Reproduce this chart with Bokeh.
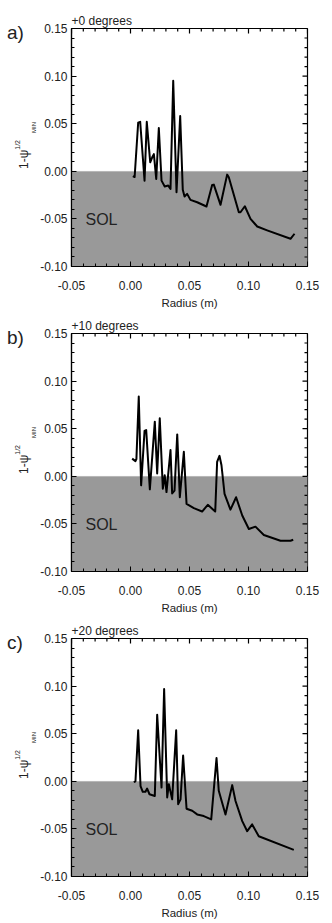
from bokeh.plotting import figure
from bokeh.models import (Range1d, BoxAnnotation, Label, FixedTicker,
                          NumeralTickFormatter, Div, Spacer)
from bokeh.layouts import column, row
from bokeh.embed import file_html
from bokeh.resources import INLINE

# ---------------- data ----------------
PANEL_LETTERS = ["a)", "b)", "c)"]
PANEL_TITLES = ["+0 degrees", "+10 degrees", "+20 degrees"]
X_TICKS = [-0.05, 0.00, 0.05, 0.10, 0.15]
Y_TICKS = [-0.10, -0.05, 0.00, 0.05, 0.10, 0.15]
SOL_LEVEL = 0.0
X_LABEL = "Radius (m)"
REGION_LABEL = "SOL"

R_0 = [0.002, 0.0035, 0.0065, 0.0082, 0.0119, 0.0138, 0.0167, 0.0184, 0.0198,
       0.0218, 0.0240, 0.0263, 0.0290, 0.0320, 0.0339, 0.0362, 0.0390, 0.0421,
       0.0443, 0.0458, 0.0480, 0.0508, 0.0565, 0.0644, 0.0692, 0.0706, 0.0763,
       0.0819, 0.0833, 0.0918, 0.0932, 0.0969, 0.1017, 0.1074, 0.1158, 0.1356,
       0.1390]
V_0 = [-0.005, -0.006, 0.051, 0.052, -0.0098, 0.052, 0.0095, 0.0147, 0.018,
       -0.008, 0.0455, -0.0098, -0.016, -0.015, -0.0185, 0.095, -0.022, 0.058,
       -0.0195, -0.0265, -0.0237, -0.030, -0.0325, -0.037, -0.0143, -0.014, -0.0352,
       -0.0035, -0.0063, -0.043, -0.043, -0.0367, -0.050, -0.058, -0.062, -0.0709,
       -0.0656]

R_10 = [0.0014, 0.0042, 0.0050, 0.0070, 0.0090, 0.0119, 0.0133, 0.0164, 0.0206,
        0.0226, 0.0248, 0.0274, 0.0290, 0.0305, 0.0339, 0.0353, 0.0373, 0.0396,
        0.0418, 0.0452, 0.0475, 0.0537, 0.0607, 0.0655, 0.0718, 0.0734, 0.0754,
        0.0771, 0.0797, 0.0847, 0.0895, 0.0947, 0.1003, 0.1059, 0.1130, 0.1271,
        0.1356, 0.1379]
V_10 = [0.0186, 0.0159, 0.018, 0.0838, -0.0095, 0.0476, 0.0486, -0.0137, 0.0574,
        0.003, 0.061, -0.013, 0.001, -0.0166, 0.0275, -0.018, -0.015, 0.044,
        -0.022, 0.0257, -0.029, -0.0335, -0.037, -0.030, -0.037, 0.0151, 0.0215,
        0.0116, -0.0184, -0.035, -0.022, -0.0412, -0.0554, -0.0529, -0.0617, -0.0677,
        -0.0677, -0.0666]

R_20 = [0.0028, 0.0042, 0.0065, 0.0085, 0.0104, 0.0127, 0.0141, 0.0161, 0.0206,
        0.0226, 0.0263, 0.0285, 0.0311, 0.0325, 0.0353, 0.0387, 0.0404, 0.0424,
        0.0446, 0.0475, 0.0523, 0.0565, 0.0621, 0.0684, 0.0729, 0.0748, 0.0805,
        0.0862, 0.0890, 0.0947, 0.0989, 0.1031, 0.1087, 0.1384]
V_20 = [-0.001, 0.0, 0.0535, -0.005, -0.011, -0.011, -0.0076, -0.0136, -0.0154,
        0.070, -0.0066, 0.097, -0.017, -0.003, -0.019, 0.0535, -0.024, -0.019,
        0.027, -0.0288, -0.031, -0.0348, -0.0365, -0.040, 0.0245, -0.010, -0.0348,
        -0.004, -0.0207, -0.0418, -0.0524, -0.0453, -0.0577, -0.072]

SERIES = [(R_0, V_0), (R_10, V_10), (R_20, V_20)]

# ---------------- layout constants ----------------
FW, FH = 236, 238
BT, BB, BR = 22, 42, 25      # top / bottom / right borders of each figure
DIV_W, BL = 36, 35           # left strip (letter + y label) and figure left border
PANEL_H = BT + FH + BB
FONT = "Liberation Sans"
INK = "#222222"
X0, X1 = X_TICKS[0], X_TICKS[-1]
Y0, Y1 = Y_TICKS[0], Y_TICKS[-1]
XPX = (X1 - X0) / FW         # data units per pixel
YPX = (Y1 - Y0) / FH


def minors(ticks, n=5):
    out = []
    for a, b in zip(ticks[:-1], ticks[1:]):
        out += [a + k * (b - a) / n for k in range(1, n)]
    return out


X_MINOR = minors(X_TICKS)
Y_MINOR = minors(Y_TICKS)


def style_axis(ax, ticks, minor):
    ax.ticker = FixedTicker(ticks=ticks, minor_ticks=minor)
    ax.formatter = NumeralTickFormatter(format="0.00")
    ax.major_tick_in = 5
    ax.major_tick_out = 0
    ax.minor_tick_in = 3
    ax.minor_tick_out = 0
    for a in ("axis_line_color", "major_tick_line_color", "minor_tick_line_color"):
        setattr(ax, a, "black")
    ax.axis_line_width = 1.2
    ax.major_label_text_font = FONT
    ax.major_label_text_color = INK
    ax.major_label_text_font_size = "12px"


def make_panel(i):
    xs, ys = SERIES[i]
    p = figure(frame_width=FW, frame_height=FH,
               x_range=Range1d(X0, X1), y_range=Range1d(Y0, Y1),
               output_backend="svg", toolbar_location=None,
               min_border_left=BL, min_border_right=BR,
               min_border_top=BT, min_border_bottom=BB,
               background_fill_color="white", border_fill_color="white")
    p.xgrid.visible = False
    p.ygrid.visible = False
    p.outline_line_color = "black"
    p.outline_line_width = 1.2

    p.title.text = PANEL_TITLES[i]
    p.title.align = "left"
    p.title.text_font = FONT
    p.title.text_font_style = "normal"
    p.title.text_font_size = "12px"
    p.title.text_color = INK
    p.title.standoff = 1

    xa, ya = p.xaxis[0], p.yaxis[0]
    style_axis(xa, X_TICKS, X_MINOR)
    style_axis(ya, Y_TICKS, Y_MINOR)
    xa.major_label_standoff = 14
    ya.major_label_standoff = 4
    xa.axis_label = X_LABEL
    xa.axis_label_text_font = FONT
    xa.axis_label_text_font_style = "normal"
    xa.axis_label_text_font_size = "11.5px"
    xa.axis_label_text_color = INK
    xa.axis_label_standoff = 4

    p.add_layout(BoxAnnotation(top=SOL_LEVEL, fill_color="#999999", fill_alpha=1.0,
                               line_color="#c6c6c6", line_width=1, level="underlay"))

    # inward ticks on the top and right frame edges (mirror of bottom / left axes)
    for ticks, ln in ((X_TICKS, 5), (X_MINOR, 3)):
        p.segment(x0=ticks, y0=[Y1] * len(ticks), x1=ticks,
                  y1=[Y1 - ln * YPX] * len(ticks), line_color="black", line_width=1.2)
    for ticks, ln in ((Y_TICKS, 5), (Y_MINOR, 3)):
        p.segment(x0=[X1] * len(ticks), y0=ticks, x1=[X1 - ln * XPX] * len(ticks),
                  y1=ticks, line_color="black", line_width=1.2)

    p.line(xs, ys, line_color="black", line_width=2, line_join="round")

    p.add_layout(Label(x=X0 + 14 * XPX, y=Y1 - 191 * YPX, text=REGION_LABEL,
                       text_font=FONT, text_font_size="16px", text_color=INK,
                       text_align="left", text_baseline="middle"))

    letter_top = BT + 4 - 9.5
    ylab_top = BT + 141
    html = (
        f'<div style="position:relative;width:{DIV_W}px;height:{PANEL_H}px;'
        f'font-family:\'{FONT}\';color:{INK};">'
        f'<div style="position:absolute;left:7px;top:{letter_top}px;font-size:19px;'
        f'line-height:19px;white-space:nowrap;">{PANEL_LETTERS[i]}</div>'
        f'<div style="position:absolute;left:17.5px;top:{ylab_top}px;'
        f'transform:rotate(-90deg);transform-origin:0 0;white-space:nowrap;'
        f'font-size:12px;line-height:12px;">1-\u03c8'
        f'<span style="position:relative;top:-8px;font-size:7px;">1/2</span>'
        f'<span style="position:relative;top:8px;font-size:6px;margin-left:7px;">MIN</span>'
        f'</div></div>'
    )
    side = Div(text=html, width=DIV_W, height=PANEL_H, margin=0)
    return row(side, p, spacing=0)


layout = column(Spacer(height=6), *[make_panel(i) for i in range(3)], spacing=0)
open("out.html", "w").write(file_html(layout, INLINE))
